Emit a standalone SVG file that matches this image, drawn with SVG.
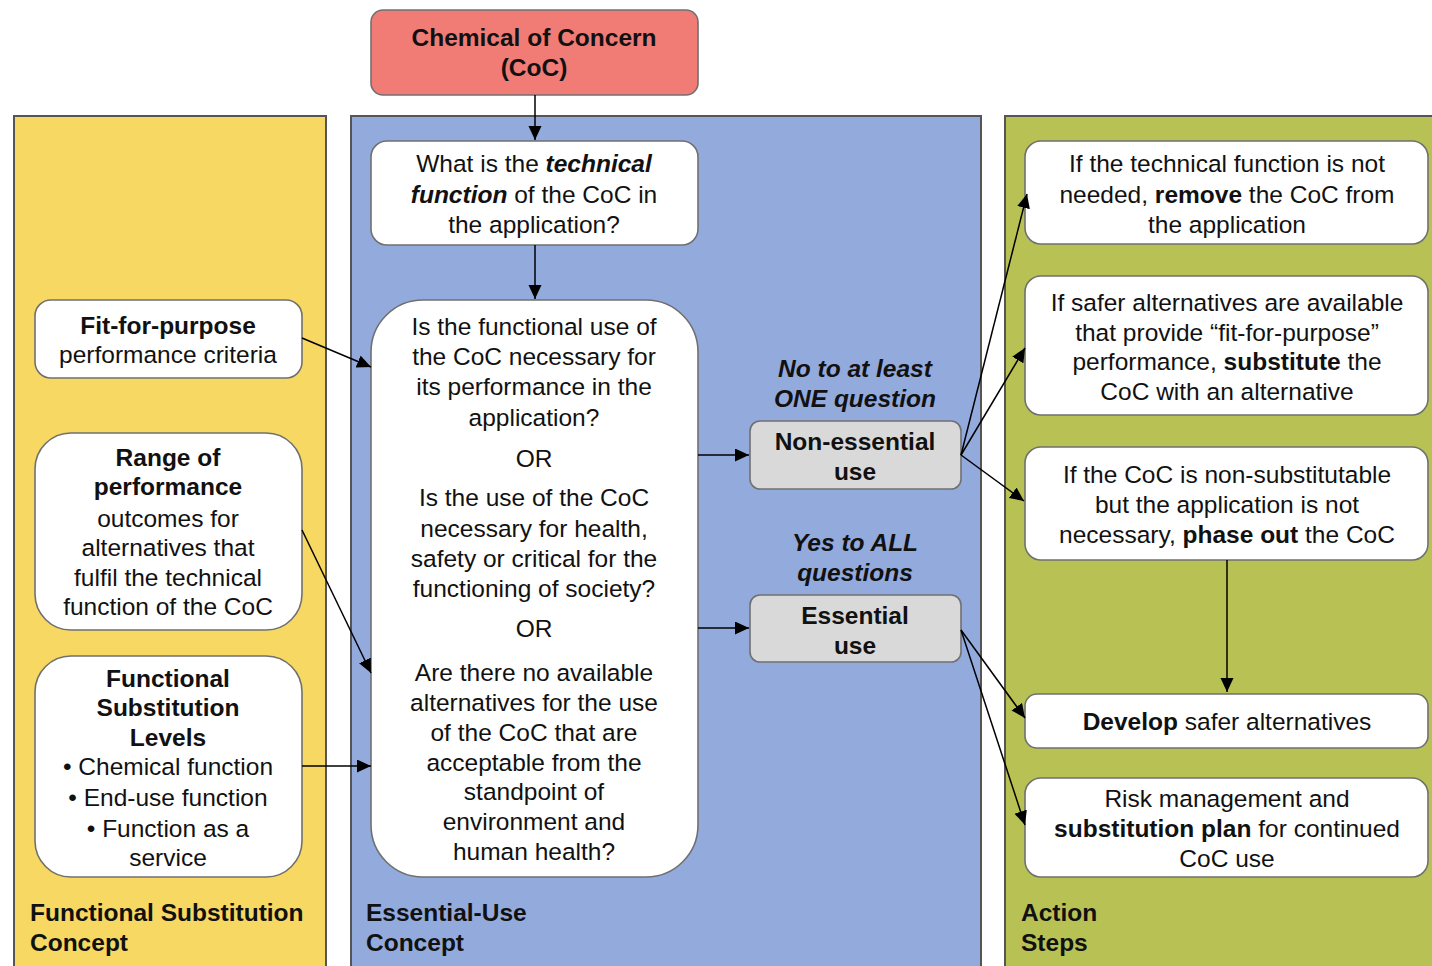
<svg xmlns="http://www.w3.org/2000/svg" width="1432" height="966" viewBox="0 0 1432 966">
<defs>
<marker id="arr" markerUnits="userSpaceOnUse" markerWidth="16" markerHeight="14" refX="14" refY="6.5" orient="auto">
<path d="M0,0 L14,6.5 L0,13 z" fill="#000"/>
</marker>
<style>
text{font-family:"Liberation Sans",Arial,sans-serif;font-size:24.5px;fill:#111;text-anchor:middle}
.b{font-weight:bold}
.bi{font-weight:bold;font-style:italic}
.lab{text-anchor:start;font-weight:bold}
.panel{stroke:#555;stroke-width:2}
.box{fill:#fff;stroke:#707070;stroke-width:1.6}
.grey{fill:#d9d9d9;stroke:#707070;stroke-width:1.6}
.con{stroke:#000;stroke-width:1.5;fill:none;marker-end:url(#arr)}
</style>
</defs>
<rect width="1432" height="966" fill="#fff"/>
<g id="panel-fs">
<rect class="panel" x="14" y="116" width="312" height="870" fill="#f6d862"/>
<text class="lab" x="30" y="921">Functional Substitution</text>
<text class="lab" x="30" y="951">Concept</text>
</g>
<g id="panel-eu">
<rect class="panel" x="351" y="116" width="630" height="870" fill="#93aadd"/>
<text class="lab" x="366" y="921">Essential-Use</text>
<text class="lab" x="366" y="951">Concept</text>
</g>
<g id="panel-as">
<rect class="panel" x="1005" y="116" width="440" height="870" fill="#b8c254"/>
<text class="lab" x="1021" y="921">Action</text>
<text class="lab" x="1021" y="951">Steps</text>
</g>
<g id="coc">
<rect x="371" y="10" width="327" height="85" rx="12" fill="#f17c76" stroke="#707070" stroke-width="1.6"/>
<text class="b" x="534" y="46">Chemical of Concern</text>
<text class="b" x="534" y="76">(CoC)</text>
</g>
<g id="q1">
<rect class="box" x="371" y="141" width="327" height="104" rx="16"/>
<text x="534" y="172">What is the <tspan class="bi">technical</tspan></text>
<text x="534" y="203"><tspan class="bi">function</tspan> of the CoC in</text>
<text x="534" y="233">the application?</text>
</g>
<g id="q2">
<rect class="box" x="371" y="300" width="327" height="577" rx="52"/>
<text x="534" y="335">Is the functional use of</text>
<text x="534" y="365">the CoC necessary for</text>
<text x="534" y="395">its performance in the</text>
<text x="534" y="426">application?</text>
<text x="534" y="467">OR</text>
<text x="534" y="506">Is the use of the CoC</text>
<text x="534" y="537">necessary for health,</text>
<text x="534" y="567">safety or critical for the</text>
<text x="534" y="597">functioning of society?</text>
<text x="534" y="637">OR</text>
<text x="534" y="681">Are there no available</text>
<text x="534" y="711">alternatives for the use</text>
<text x="534" y="741">of the CoC that are</text>
<text x="534" y="771">acceptable from the</text>
<text x="534" y="800">standpoint of</text>
<text x="534" y="830">environment and</text>
<text x="534" y="860">human health?</text>
</g>
<g id="fit">
<rect class="box" x="35" y="300" width="267" height="78" rx="16"/>
<text class="b" x="168" y="334">Fit-for-purpose</text>
<text x="168" y="363">performance criteria</text>
</g>
<g id="range">
<rect class="box" x="35" y="433" width="267" height="197" rx="36"/>
<text class="b" x="168" y="466">Range of</text>
<text class="b" x="168" y="495">performance</text>
<text x="168" y="527">outcomes for</text>
<text x="168" y="556">alternatives that</text>
<text x="168" y="586">fulfil the technical</text>
<text x="168" y="615">function of the CoC</text>
</g>
<g id="levels">
<rect class="box" x="35" y="656" width="267" height="221" rx="36"/>
<text class="b" x="168" y="687">Functional</text>
<text class="b" x="168" y="716">Substitution</text>
<text class="b" x="168" y="746">Levels</text>
<text x="168" y="775">• Chemical function</text>
<text x="168" y="806">• End-use function</text>
<text x="168" y="837">• Function as a</text>
<text x="168" y="866">service</text>
</g>
<g id="nonessential">
<text class="bi" x="855" y="377">No to at least</text>
<text class="bi" x="855" y="407">ONE question</text>
<rect class="grey" x="750" y="421" width="211" height="68" rx="10"/>
<text class="b" x="855" y="450">Non-essential</text>
<text class="b" x="855" y="480">use</text>
</g>
<g id="essential">
<text class="bi" x="855" y="551">Yes to ALL</text>
<text class="bi" x="855" y="581">questions</text>
<rect class="grey" x="750" y="595" width="211" height="67" rx="10"/>
<text class="b" x="855" y="624">Essential</text>
<text class="b" x="855" y="654">use</text>
</g>
<g id="remove">
<rect class="box" x="1025" y="141" width="403" height="103" rx="16"/>
<text x="1227" y="172">If the technical function is not</text>
<text x="1227" y="203">needed, <tspan class="b">remove</tspan> the CoC from</text>
<text x="1227" y="233">the application</text>
</g>
<g id="substitute">
<rect class="box" x="1025" y="276" width="403" height="139" rx="16"/>
<text x="1227" y="311">If safer alternatives are available</text>
<text x="1227" y="341">that provide “fit-for-purpose”</text>
<text x="1227" y="370">performance, <tspan class="b">substitute</tspan> the</text>
<text x="1227" y="400">CoC with an alternative</text>
</g>
<g id="phaseout">
<rect class="box" x="1025" y="447" width="403" height="113" rx="16"/>
<text x="1227" y="483">If the CoC is non-substitutable</text>
<text x="1227" y="513">but the application is not</text>
<text x="1227" y="543">necessary, <tspan class="b">phase out</tspan> the CoC</text>
</g>
<g id="develop">
<rect class="box" x="1025" y="694" width="403" height="54" rx="12"/>
<text x="1227" y="730"><tspan class="b">Develop</tspan> safer alternatives</text>
</g>
<g id="riskplan">
<rect class="box" x="1025" y="778" width="403" height="99" rx="16"/>
<text x="1227" y="807">Risk management and</text>
<text x="1227" y="837"><tspan class="b">substitution plan</tspan> for continued</text>
<text x="1227" y="867">CoC use</text>
</g>
<g id="connectors">
<line class="con" x1="535" y1="95" x2="535" y2="140"/>
<line class="con" x1="535" y1="245" x2="535" y2="299"/>
<line class="con" x1="302" y1="338" x2="371" y2="367"/>
<line class="con" x1="302" y1="530" x2="371" y2="673"/>
<line class="con" x1="302" y1="766" x2="371" y2="766"/>
<line class="con" x1="698" y1="455" x2="749" y2="455"/>
<line class="con" x1="698" y1="628" x2="749" y2="628"/>
<line class="con" x1="961" y1="455" x2="1027" y2="194"/>
<line class="con" x1="961" y1="455" x2="1025" y2="348"/>
<line class="con" x1="961" y1="455" x2="1024" y2="501"/>
<line class="con" x1="961" y1="630" x2="1025" y2="718"/>
<line class="con" x1="961" y1="630" x2="1025" y2="825"/>
<line class="con" x1="1227" y1="560" x2="1227" y2="692"/>
</g>
</svg>
